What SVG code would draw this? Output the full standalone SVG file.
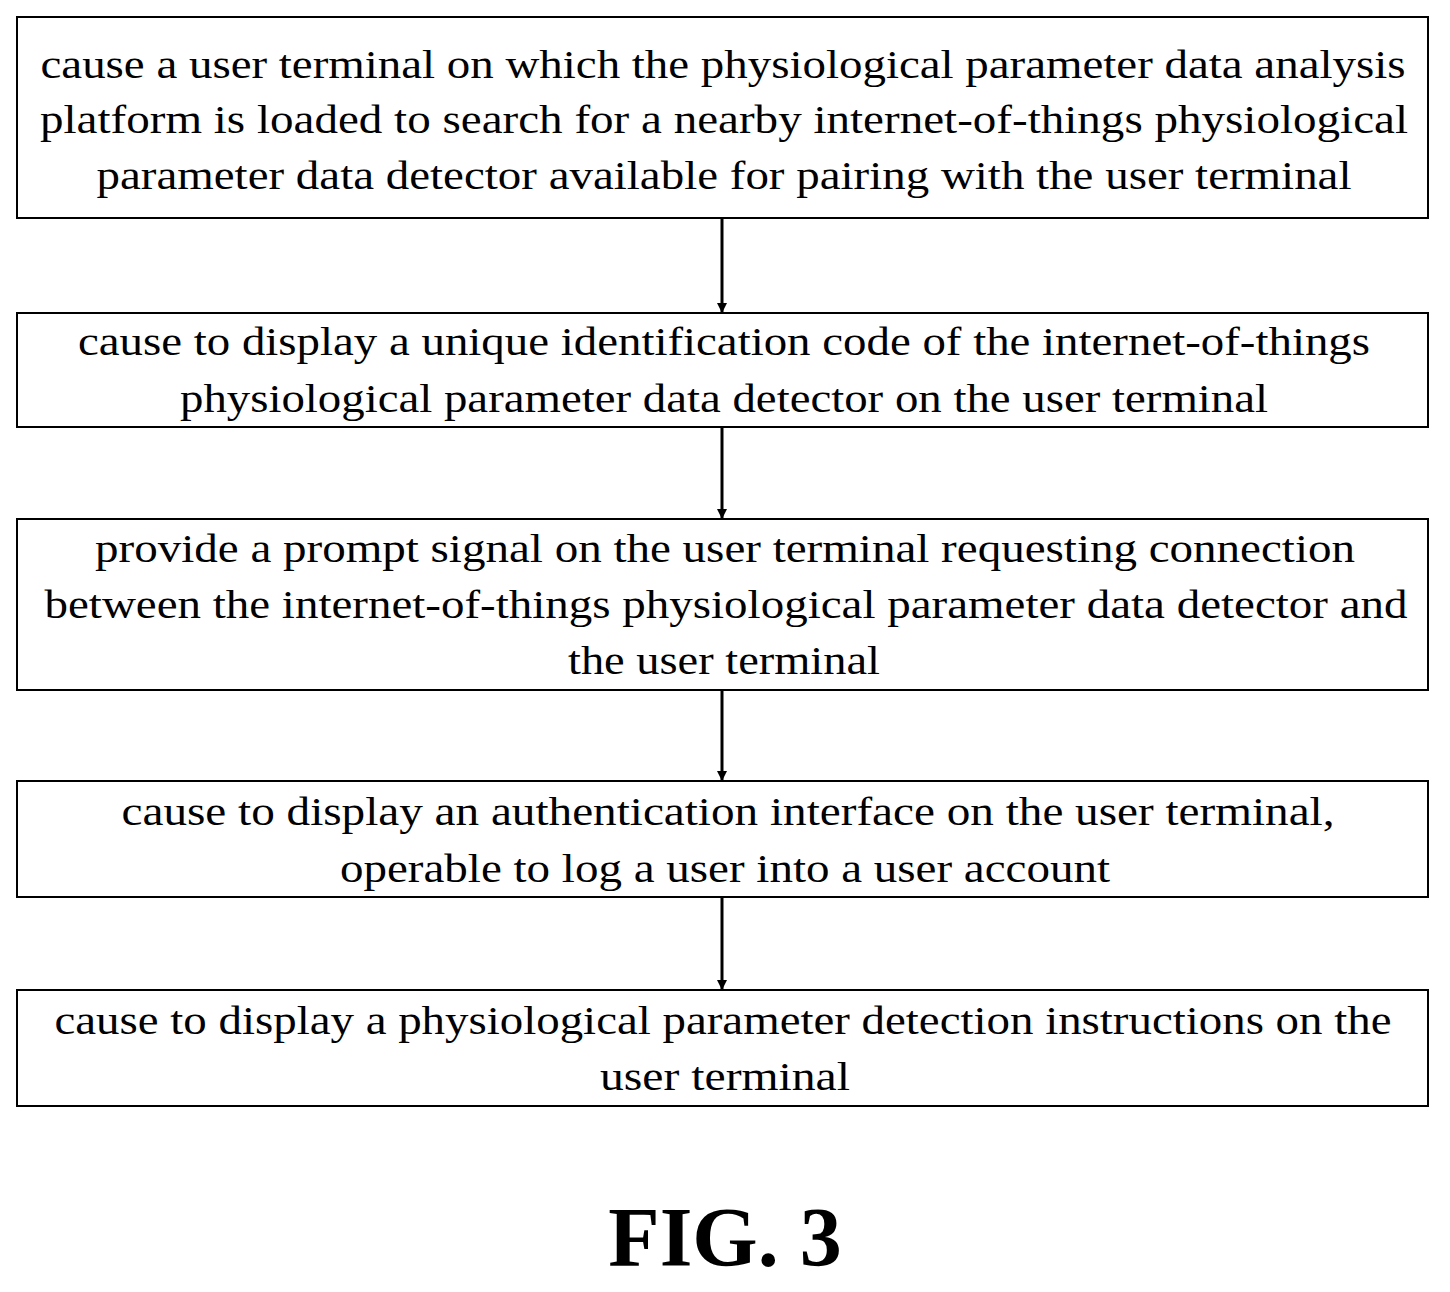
<svg xmlns="http://www.w3.org/2000/svg" width="1450" height="1292" viewBox="0 0 1450 1292">
<style>
.b{fill:#fff;stroke:#000;stroke-width:2}
.t{font-family:"Liberation Serif",serif;font-size:39px;text-anchor:middle;fill:#000}
.c{stroke:#000;stroke-width:3}
</style>
<defs><marker id="a" markerWidth="10" markerHeight="10" refX="9" refY="5" orient="auto" markerUnits="userSpaceOnUse" viewBox="0 0 10 10"><path d="M0,0L10,5L0,10z" fill="#000"/></marker></defs>
<rect width="1450" height="1292" fill="#fff"/>
<g id="n1"><rect class="b" x="17" y="17" width="1411" height="201"/>
<text class="t" x="723" y="78" textLength="1365" lengthAdjust="spacingAndGlyphs">cause a user terminal on which the physiological parameter data analysis</text>
<text class="t" x="724" y="133" textLength="1368" lengthAdjust="spacingAndGlyphs">platform is loaded to search for a nearby internet-of-things physiological</text>
<text class="t" x="724" y="189" textLength="1255" lengthAdjust="spacingAndGlyphs">parameter data detector available for pairing with the user terminal</text></g>
<g id="n2"><rect class="b" x="17" y="313" width="1411" height="114"/>
<text class="t" x="724" y="355" textLength="1292" lengthAdjust="spacingAndGlyphs">cause to display a unique identification code of the internet-of-things</text>
<text class="t" x="724" y="412" textLength="1088" lengthAdjust="spacingAndGlyphs">physiological parameter data detector on the user terminal</text></g>
<g id="n3"><rect class="b" x="17" y="519" width="1411" height="171"/>
<text class="t" x="725" y="562" textLength="1260" lengthAdjust="spacingAndGlyphs">provide a prompt signal on the user terminal requesting connection</text>
<text class="t" x="726" y="618" textLength="1363" lengthAdjust="spacingAndGlyphs">between the internet-of-things physiological parameter data detector and</text>
<text class="t" x="724" y="674" textLength="312" lengthAdjust="spacingAndGlyphs">the user terminal</text></g>
<g id="n4"><rect class="b" x="17" y="781" width="1411" height="116"/>
<text class="t" x="728" y="825" textLength="1213" lengthAdjust="spacingAndGlyphs">cause to display an authentication interface on the user terminal,</text>
<text class="t" x="725" y="882" textLength="770" lengthAdjust="spacingAndGlyphs">operable to log a user into a user account</text></g>
<g id="n5"><rect class="b" x="17" y="990" width="1411" height="116"/>
<text class="t" x="723" y="1034" textLength="1337" lengthAdjust="spacingAndGlyphs">cause to display a physiological parameter detection instructions on the</text>
<text class="t" x="725" y="1090" textLength="250" lengthAdjust="spacingAndGlyphs">user terminal</text></g>
<g id="connectors">
<line class="c" x1="722" y1="218" x2="722" y2="312" marker-end="url(#a)"/>
<line class="c" x1="722" y1="427" x2="722" y2="518" marker-end="url(#a)"/>
<line class="c" x1="722" y1="690" x2="722" y2="780" marker-end="url(#a)"/>
<line class="c" x1="722" y1="897" x2="722" y2="989" marker-end="url(#a)"/>
</g>
<text x="725" y="1266" font-family="Liberation Serif,serif" font-weight="bold" font-size="84" text-anchor="middle">FIG. 3</text>
</svg>
